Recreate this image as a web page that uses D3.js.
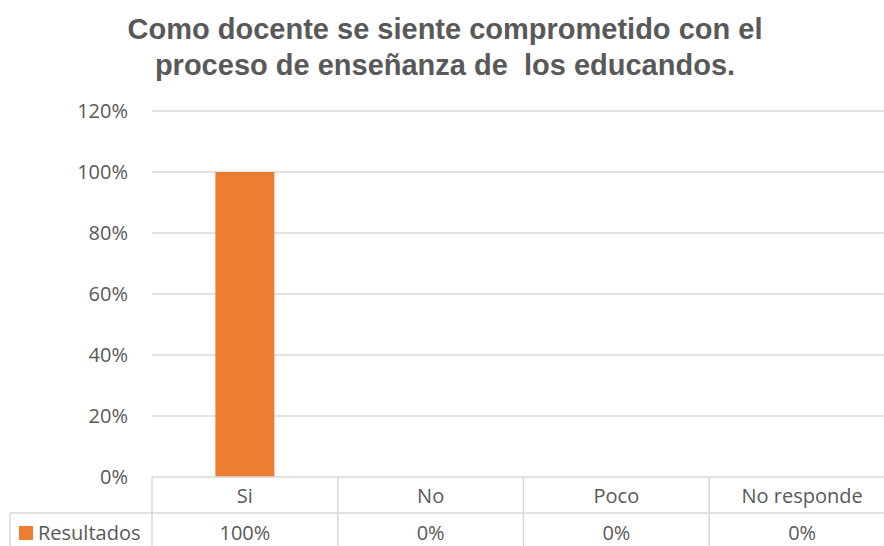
<!DOCTYPE html>
<html><head><meta charset="utf-8">
<script src="https://cdn.jsdelivr.net/npm/d3@7/dist/d3.min.js"></script>
<style>body{margin:0;background:#fff;}svg{display:block;}</style>
</head><body>
<svg id="c" width="884" height="546"></svg>
<script>
const titleLines = ["Como docente se siente comprometido con el", "proceso de enseñanza de\u00a0 los educandos."];
const categories = ["Si", "No", "Poco", "No responde"];
const values = [1.0, 0, 0, 0];
const valueLabels = ["100%", "0%", "0%", "0%"];
const seriesName = "Resultados";
const yTicks = [0, 0.2, 0.4, 0.6, 0.8, 1.0, 1.2];

(function () {
const svg = d3.select("#c");
const pLeft = 152, pRight = 895, pTop = 111, pBottom = 477;
const rowH = 36;
const grey = "#595959", gridC = "#D9D9D9", barC = "#ED7D31";
const font = "'Open Sans', 'Noto Sans', sans-serif";
const fs = 20;

const x = d3.scaleBand().domain(categories).range([pLeft, pRight]).paddingInner(0).paddingOuter(0);
const y = d3.scaleLinear().domain([0, 1.2]).range([pBottom, pTop]);

// title
svg.append("g").selectAll("text").data(titleLines).join("text")
  .attr("x", 445).attr("y", (d, i) => 39 + i * 36)
  .attr("text-anchor", "middle")
  .attr("font-family", "'Liberation Sans', Arial, sans-serif")
  .attr("font-weight", "bold").attr("font-size", 29).attr("fill", grey)
  .text(d => d);

// gridlines
svg.append("g").selectAll("line").data(yTicks.filter(d => d > 0)).join("line")
  .attr("x1", pLeft).attr("x2", pRight)
  .attr("y1", d => y(d)).attr("y2", d => y(d))
  .attr("stroke", gridC).attr("stroke-width", 1.3);

// y axis labels
const yAxis = d3.axisLeft(y).tickValues(yTicks).tickFormat(d3.format(".0%")).tickSize(0).tickPadding(24);
const ya = svg.append("g").attr("transform", `translate(${pLeft},0)`).call(yAxis);
ya.select(".domain").remove();
ya.selectAll("text").attr("font-family", font).attr("font-size", fs).attr("fill", grey);

// bars
const bw = 59;
svg.append("g").selectAll("rect").data(values).join("rect")
  .attr("x", (d, i) => x(categories[i]) + x.bandwidth() / 2 - bw / 2)
  .attr("width", bw)
  .attr("y", d => y(d)).attr("height", d => pBottom - y(d))
  .attr("fill", barC);

// data table
const t = svg.append("g");
const lineAttr = sel => sel.attr("stroke", gridC).attr("stroke-width", 1.5);
t.append("line").attr("x1", pLeft).attr("x2", pRight).attr("y1", pBottom).attr("y2", pBottom).call(lineAttr);
t.append("line").attr("x1", 10).attr("x2", pRight).attr("y1", pBottom + rowH).attr("y2", pBottom + rowH).call(lineAttr);
t.append("line").attr("x1", 10).attr("x2", 10).attr("y1", pBottom + rowH).attr("y2", 560).call(lineAttr);
t.selectAll("line.v").data(categories).join("line").attr("class", "v")
  .attr("x1", d => x(d)).attr("x2", d => x(d))
  .attr("y1", pBottom).attr("y2", 560).call(lineAttr);
t.append("line").attr("x1", pRight).attr("x2", pRight).attr("y1", pBottom).attr("y2", 560).call(lineAttr);

t.selectAll("text.cat").data(categories).join("text").attr("class", "cat")
  .attr("x", d => x(d) + x.bandwidth() / 2).attr("y", 503)
  .attr("text-anchor", "middle").attr("font-family", font).attr("font-size", fs).attr("fill", grey)
  .text(d => d);
t.selectAll("text.val").data(valueLabels).join("text").attr("class", "val")
  .attr("x", (d, i) => x(categories[i]) + x.bandwidth() / 2).attr("y", 540)
  .attr("text-anchor", "middle").attr("font-family", font).attr("font-size", fs).attr("fill", grey)
  .text(d => d);

// legend key
t.append("rect").attr("x", 19).attr("y", 526).attr("width", 14).attr("height", 14).attr("fill", barC);
t.append("text").attr("x", 38).attr("y", 540)
  .attr("font-family", font).attr("font-size", fs).attr("fill", grey).text(seriesName);
})();
</script>
</body></html>
